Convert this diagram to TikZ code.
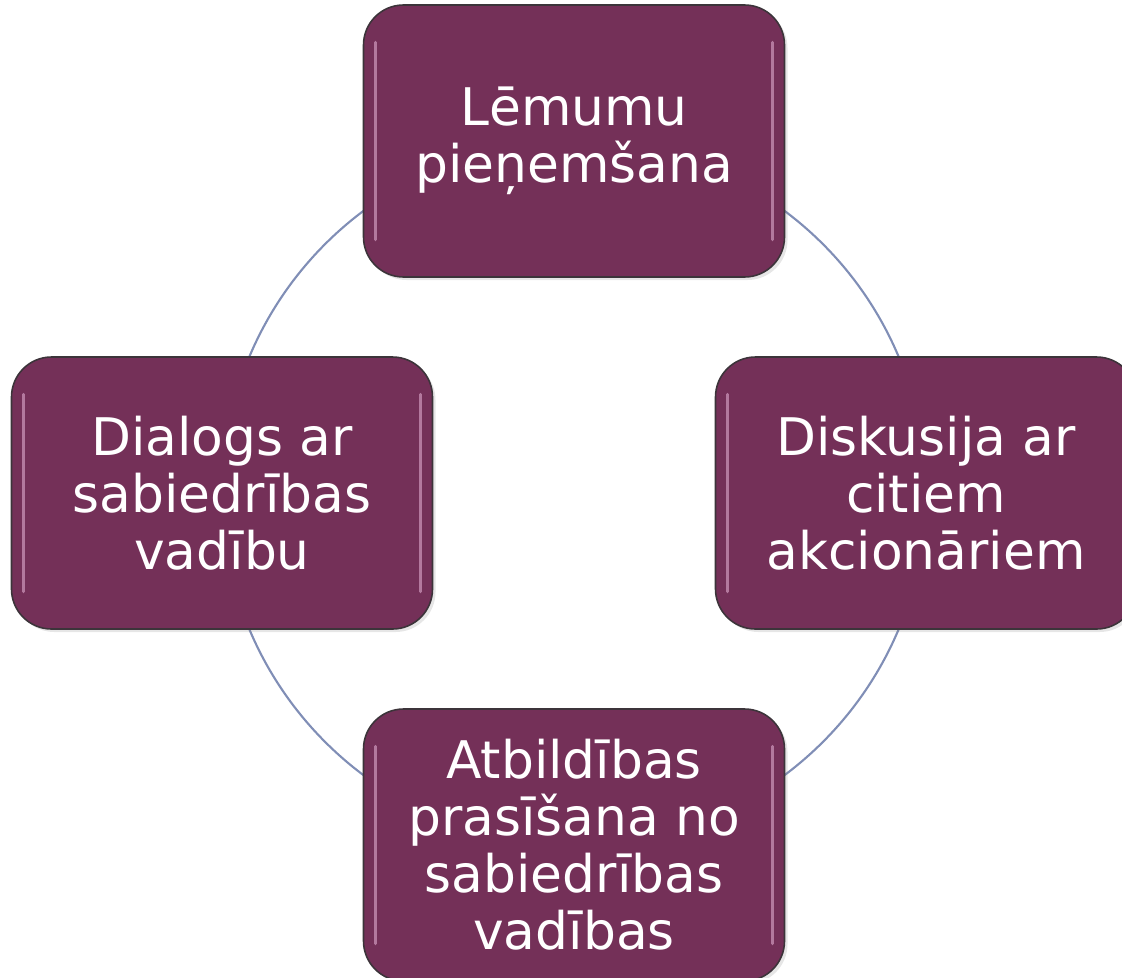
\documentclass[tikz,border=0pt]{standalone}
\usepackage{fontspec}
\setmainfont{DejaVu Sans}
\usetikzlibrary{shadows,backgrounds}

\definecolor{plum}{RGB}{116,48,88}
\definecolor{plumrim}{RGB}{60,52,58}
\definecolor{plumglint}{RGB}{222,170,205}
\definecolor{ringblue}{RGB}{128,142,182}

\begin{document}
\begin{tikzpicture}
  \tikzstyle{glint}=[plumglint,line width=2pt,line cap=round,opacity=0.6]
  \tikzstyle{ring}=[ringblue,line width=1.2pt]
  \tikzstyle{topic}=[rectangle,rounded corners=0.8cm,draw=plumrim,line width=0.9pt,
              fill=plum,text=white,minimum width=8.42cm,minimum height=5.44cm,
              align=center,font=\fontsize{29.5}{32.4}\selectfont,
              drop shadow={opacity=0.2,shadow xshift=0.06cm,shadow yshift=-0.06cm},
              path picture={
                \draw[glint] ([xshift=0.24cm,yshift=-0.75cm]path picture bounding box.north west)
                  -- ([xshift=0.24cm,yshift=0.75cm]path picture bounding box.south west);
                \draw[glint] ([xshift=-0.24cm,yshift=-0.75cm]path picture bounding box.north east)
                  -- ([xshift=-0.24cm,yshift=0.75cm]path picture bounding box.south east);}]
  \useasboundingbox (0,0) rectangle (22.44,-19.54);
  \coordinate (hub) at (11.48,-9.86);
  \node [topic,yshift=7.04cm] (decide) at (hub) {Lēmumu\\pieņemšana};
  \node [topic,xshift=7.04cm] (discuss) at (hub) {Diskusija ar\\citiem\\akcionāriem};
  \node [topic,yshift=-7.04cm] (account) at (hub) {Atbildības\\prasīšana no\\sabiedrības\\vadības};
  \node [topic,xshift=-7.04cm] (dialog) at (hub) {Dialogs ar\\sabiedrības\\vadību};
  \begin{scope}[on background layer]
    \draw [ring] (decide.center) arc[start angle=90,end angle=450,radius=7.04cm];
  \end{scope}
\end{tikzpicture}
\end{document}
